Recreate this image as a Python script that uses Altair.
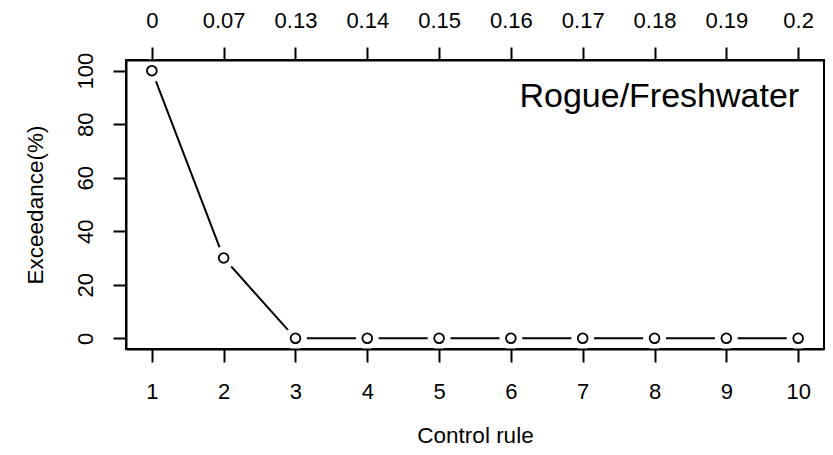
import altair as alt
import pandas as pd

# ---- data ----
rule = [1, 2, 3, 4, 5, 6, 7, 8, 9, 10]
harvest = ["0", "0.07", "0.13", "0.14", "0.15", "0.16", "0.17", "0.18", "0.19", "0.2"]
exceedance = [100, 30, 0, 0, 0, 0, 0, 0, 0, 0]
y_ticks = [0, 20, 40, 60, 80, 100]
panel_label = "Rogue/Freshwater"

df = pd.DataFrame({"rule": rule, "exceed": exceedance, "harvest": harvest})

FONT = "Liberation Sans"
xscale = alt.Scale(domain=[0.64, 10.36], nice=False, zero=False)
yscale = alt.Scale(domain=[-4, 104], nice=False, zero=False)

label_expr = "[" + ",".join(f"'{h}'" for h in harvest) + "][datum.value - 1]"

common = dict(
    domain=True, domainColor="black", domainWidth=2,
    ticks=True, tickColor="black", tickWidth=2, tickSize=13,
    labelFont=FONT, labelFontSize=22, labelColor="black",
    grid=False, zindex=1, labelOverlap=False, labelFlush=False,
)

bottom_axis = alt.Axis(
    orient="bottom", values=rule, format="d",
    labelBaseline="alphabetic", labelPadding=36,
    title="Control rule", titleFont=FONT, titleFontSize=22.5, titleFontWeight="normal",
    titleColor="black", titleBaseline="alphabetic", titleY=93,
    **common,
)
top_axis = alt.Axis(
    orient="top", values=rule, labelExpr=label_expr,
    labelBaseline="alphabetic", labelPadding=20, title=None,
    **common,
)
left_axis = alt.Axis(
    orient="left", values=y_ticks, format="d",
    labelAngle=-90, labelAlign="center", labelBaseline="alphabetic", labelPadding=21,
    title="Exceedance(%)", titleFont=FONT, titleFontSize=22.5, titleFontWeight="normal",
    titleColor="black", titleBaseline="alphabetic", titleAngle=-90, titleAlign="center",
    titleX=-84, titleY=144.5,
    **common,
)

base = alt.Chart(df)
Y = alt.Y("exceed:Q", scale=yscale, axis=left_axis)

line = base.mark_line(color="black", strokeWidth=2).encode(
    x=alt.X("rule:Q", scale=xscale, axis=bottom_axis),
    y=Y,
)
halo = base.mark_point(shape="circle", filled=True, color="white", opacity=1, size=520).encode(
    x=alt.X("rule:Q", scale=xscale, axis=None),
    y=Y,
)
pts = base.mark_point(shape="circle", filled=False, color="black", strokeWidth=1.8, opacity=1, size=95).encode(
    x=alt.X("rule:Q", scale=xscale, axis=None),
    y=Y,
)
top = base.mark_point(opacity=0).encode(
    x=alt.X("rule:Q", scale=xscale, axis=top_axis),
    y=Y,
)
label_df = pd.DataFrame({"rule": [max(rule)], "text": [panel_label]})
label = alt.Chart(label_df).mark_text(
    align="right", baseline="alphabetic", font=FONT, fontSize=34, color="black", dx=1
).encode(
    x=alt.X("rule:Q", scale=xscale, axis=None),
    y=alt.value(47),
    text="text:N",
)

chart = (
    alt.layer(line, halo, pts, top, label)
    .resolve_axis(x="independent")
    .properties(
        width=698, height=289, autosize="none",
        padding={"left": 118, "top": 52, "right": 1, "bottom": 98},
        background="white",
    )
    .configure_view(stroke="black", strokeWidth=2)
)

chart.save("out.html", embed_options={"renderer": "svg", "actions": False})
